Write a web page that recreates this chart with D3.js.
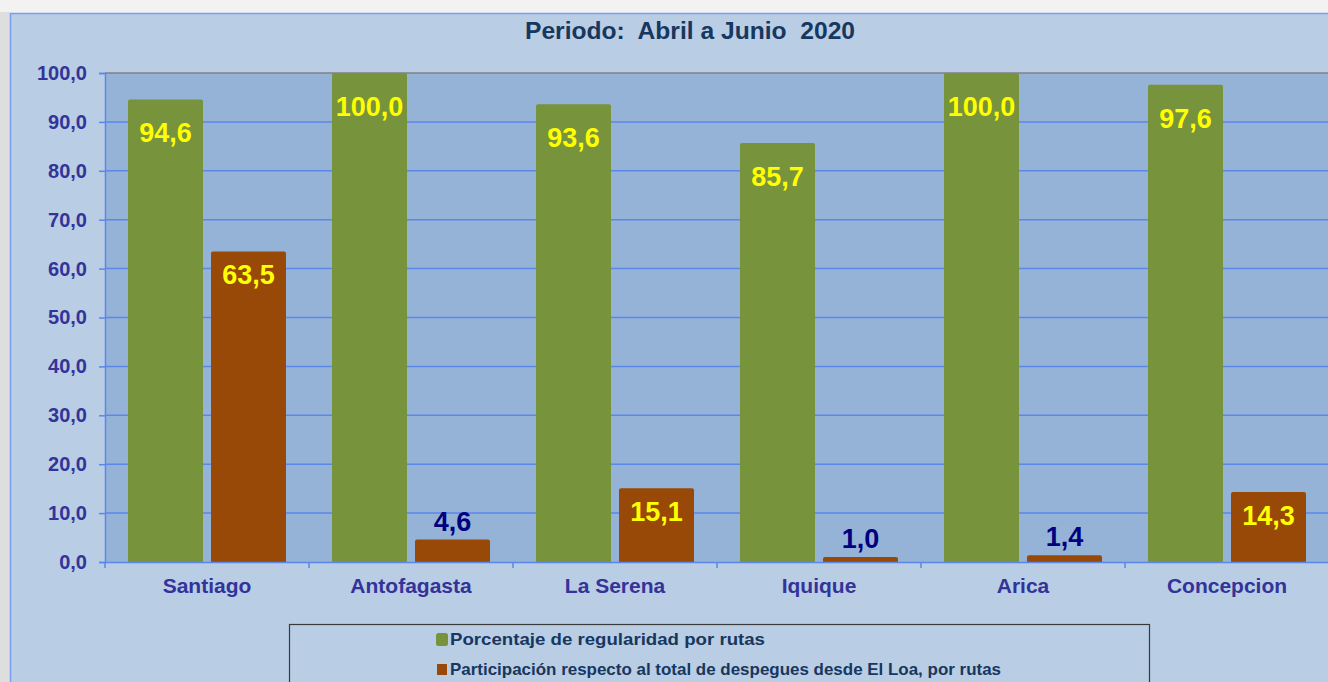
<!DOCTYPE html>
<html>
<head>
<meta charset="utf-8">
<script src="https://cdn.jsdelivr.net/npm/d3@7"></script>
<style>
  body { margin: 0; background: #f2f2f2; overflow: hidden; }
  text { font-family: "Liberation Sans", Arial, sans-serif; font-weight: bold; white-space: pre; }
</style>
</head>
<body>
<div id="chart"></div>
<script>
// DATA ///////////////////////////////////////////////////////////////////////
const categories = ["Santiago", "Antofagasta", "La Serena", "Iquique", "Arica", "Concepcion"];
const regularidad = [94.6, 100.0, 93.6, 85.7, 100.0, 97.6];
const participacion = [63.5, 4.6, 15.1, 1.0, 1.4, 14.3];
const yTicks = [0, 10, 20, 30, 40, 50, 60, 70, 80, 90, 100];
const seriesNames = [
  "Porcentaje de regularidad por rutas",
  "Participación respecto al total de despegues desde El Loa, por rutas"
];
const title = "Periodo:  Abril a Junio  2020";

// SETUP //////////////////////////////////////////////////////////////////////
const W = 1328, H = 682;
const green = "#77933c", brown = "#984807";
const fmt = v => v.toFixed(1).replace(".", ",");

const svg = d3.select("#chart").append("svg")
  .attr("width", W).attr("height", H);

// outer page strips
svg.append("rect").attr("x", 0).attr("y", 0).attr("width", W).attr("height", H).attr("fill", "#f2f2f2");
svg.append("rect").attr("x", 0).attr("y", 12).attr("width", 10).attr("height", H).attr("fill", "#dedede");

// chart area
svg.append("rect")
  .attr("x", 10.5).attr("y", 13.5).attr("width", W).attr("height", H)
  .attr("fill", "#b9cde5").attr("stroke", "#7a9ef0").attr("stroke-width", 1.5);

// title
svg.append("text")
  .attr("x", 690).attr("y", 39)
  .attr("text-anchor", "middle")
  .attr("font-size", "24px")
  .attr("fill", "#17375e")
  .attr("textLength", 330)
  .attr("lengthAdjust", "spacingAndGlyphs")
  .text(title);

// scales
const plotL = 105, plotR = 1329, plotT = 73, plotB = 562;
const x = d3.scaleBand().domain(categories).range([plotL, plotR]);
const y = d3.scaleLinear().domain([0, 100]).range([plotB, plotT]);
const barW = 75, gap = 8;
const off = (x.bandwidth() - 2 * barW - gap) / 2;

// plot background
svg.append("rect")
  .attr("x", plotL).attr("y", plotT)
  .attr("width", plotR - plotL).attr("height", plotB - plotT)
  .attr("fill", "#95b3d7");

// gridlines
svg.append("g").selectAll("line")
  .data(yTicks.filter(d => d > 0 && d < 100))
  .enter().append("line")
  .attr("x1", plotL).attr("x2", plotR)
  .attr("y1", d => y(d)).attr("y2", d => y(d))
  .attr("stroke", "#5b86ea").attr("stroke-width", 1.5);

// top border of plot
svg.append("line")
  .attr("x1", plotL).attr("x2", plotR)
  .attr("y1", plotT).attr("y2", plotT)
  .attr("stroke", "#808080").attr("stroke-width", 1.5);

// bars
const groups = svg.append("g").selectAll("g")
  .data(categories)
  .enter().append("g")
  .attr("transform", d => `translate(${x(d)},0)`);

groups.append("path")
  .attr("fill", green)
  .attr("d", (d, i) => roundTop(off, y(regularidad[i]), barW, plotB - y(regularidad[i]), 2));

groups.append("path")
  .attr("fill", brown)
  .attr("d", (d, i) => roundTop(off + barW + gap, y(participacion[i]), barW, plotB - y(participacion[i]), 2));

function roundTop(x0, y0, w, h, r) {
  return `M${x0},${y0 + h}V${y0 + r}Q${x0},${y0} ${x0 + r},${y0}H${x0 + w - r}Q${x0 + w},${y0} ${x0 + w},${y0 + r}V${y0 + h}Z`;
}

// value labels
groups.append("text")
  .attr("x", off + barW / 2)
  .attr("y", (d, i) => y(regularidad[i]) + 43)
  .attr("text-anchor", "middle")
  .attr("font-size", "27px")
  .attr("fill", "#ffff00")
  .text((d, i) => fmt(regularidad[i]));

groups.append("text")
  .attr("x", off + barW + gap + barW / 2)
  .attr("y", (d, i) => participacion[i] > 10 ? y(participacion[i]) + 33 : y(participacion[i]) - 9)
  .attr("text-anchor", "middle")
  .attr("font-size", "27px")
  .attr("fill", (d, i) => participacion[i] > 10 ? "#ffff00" : "#000080")
  .text((d, i) => fmt(participacion[i]));

// y axis
const yAxis = svg.append("g")
  .attr("transform", `translate(${plotL},0)`)
  .call(d3.axisLeft(y).tickValues(yTicks).tickSize(6).tickPadding(12).tickFormat(fmt));
yAxis.selectAll("line").attr("stroke", "#5b86ea").attr("stroke-width", 1.5);
yAxis.select(".domain").attr("stroke", "#5b86ea").attr("stroke-width", 1.5);
yAxis.selectAll("text")
  .attr("font-size", "20px").attr("fill", "#333399")
  .style("font-family", "Liberation Sans, Arial, sans-serif").style("font-weight", "bold");

// x axis
const xAxis = svg.append("g")
  .attr("transform", `translate(0,${plotB})`)
  .call(d3.axisBottom(x).tickSize(0).tickPadding(16));
xAxis.select(".domain").attr("stroke", "#5b86ea").attr("stroke-width", 1.5);
xAxis.selectAll("text")
  .attr("font-size", "21px").attr("fill", "#333399")
  .style("font-family", "Liberation Sans, Arial, sans-serif").style("font-weight", "bold");
svg.append("g").selectAll("line")
  .data(categories)
  .enter().append("line")
  .attr("x1", d => x(d)).attr("x2", d => x(d))
  .attr("y1", plotB).attr("y2", plotB + 6)
  .attr("stroke", "#5b86ea").attr("stroke-width", 1.5);

// legend
svg.append("rect")
  .attr("x", 289.5).attr("y", 624.5).attr("width", 860).attr("height", 80)
  .attr("fill", "none").attr("stroke", "#3a3a3a").attr("stroke-width", 1.2);

const legendWidths = [315, 551];
const legend = svg.append("g").selectAll("g")
  .data(seriesNames)
  .enter().append("g")
  .attr("transform", (d, i) => `translate(436,${633 + i * 30})`);

legend.append("rect")
  .attr("x", (d, i) => i === 0 ? 0 : 1)
  .attr("y", (d, i) => i === 0 ? 0 : 1)
  .attr("width", (d, i) => i === 0 ? 12 : 10)
  .attr("height", (d, i) => i === 0 ? 13 : 11)
  .attr("rx", (d, i) => i === 0 ? 2.5 : 0.5)
  .attr("fill", (d, i) => i === 0 ? green : brown);

legend.append("text")
  .attr("x", 14).attr("y", 12)
  .attr("font-size", "16.5px")
  .attr("fill", "#17375e")
  .attr("textLength", (d, i) => legendWidths[i])
  .attr("lengthAdjust", "spacingAndGlyphs")
  .text(d => d);
</script>
</body>
</html>
